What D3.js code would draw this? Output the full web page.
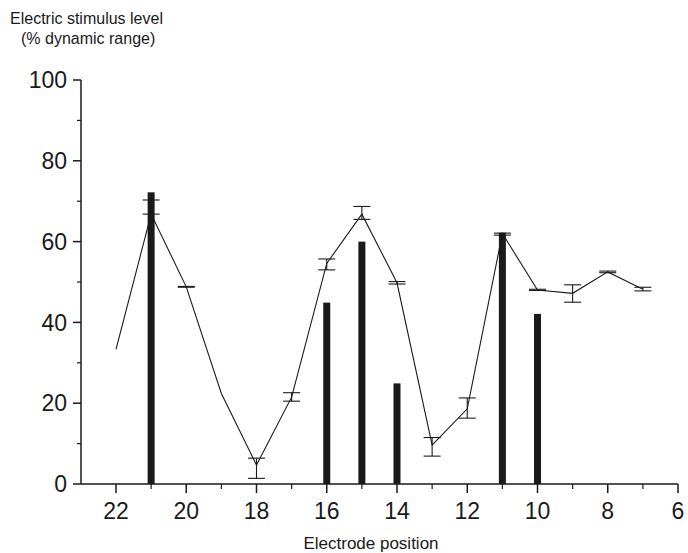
<!DOCTYPE html>
<html>
<head>
<meta charset="utf-8">
<script src="https://cdn.jsdelivr.net/npm/d3@7"></script>
<style>
  body { margin: 0; background: #fff; }
  text { font-family: "Liberation Sans", Arial, sans-serif; fill: #1a1a1a; }
</style>
</head>
<body>
<div id="chart"></div>
<script>
// electrode positions, from left to right
const electrodes = [22, 21, 20, 19, 18, 17, 16, 15, 14, 13, 12, 11, 10, 9, 8, 7];
// line (mean level) at each electrode
const levels = [33.3, 66.8, 48.8, 22.4, 4.7, 21.5, 54.6, 66.8, 49.8, 9.6, 18.6, 62.0, 48.0, 47.2, 52.5, 48.2];
// error bar low / high (null = none)
const errLow  = [null, 66.8, 48.7, null, 1.4, 20.5, 53.0, 65.5, 49.5, 6.9, 16.3, 61.6, 47.9, 45.0, 52.3, 47.8];
const errHigh = [null, 70.3, 48.9, null, 6.4, 22.6, 55.7, 68.7, 50.1, 11.5, 21.3, 62.1, 48.2, 49.3, 52.7, 48.7];
// stimulated electrodes (bars)
const barElectrodes = [21, 16, 15, 14, 11, 10];
const barValues = [72.2, 44.9, 60.0, 24.9, 62.2, 42.1];

const xTicks = [22, 20, 18, 16, 14, 12, 10, 8, 6];
const yTicks = [0, 20, 40, 60, 80, 100];

const width = 688, height = 553;
const margin = {top: 80, right: 10, bottom: 69, left: 81};

const svg = d3.select("#chart").append("svg")
  .attr("width", width)
  .attr("height", height);

const x = d3.scaleLinear().domain([22, 6]).range([116, 678]);
const y = d3.scaleLinear().domain([0, 100]).range([484, 80]);

const ink = "#1a1a1a";

// y axis
const yAxis = svg.append("g").attr("transform", `translate(${margin.left},0)`);
yAxis.append("line")
  .attr("y1", y(100)).attr("y2", y(0))
  .attr("stroke", ink).attr("stroke-width", 1.5);
yAxis.selectAll(".minor")
  .data(d3.range(10, 100, 20))
  .enter().append("line")
  .attr("x1", -4).attr("x2", 0)
  .attr("y1", d => y(d)).attr("y2", d => y(d))
  .attr("stroke", ink).attr("stroke-width", 1.2);
yAxis.selectAll(".major")
  .data(yTicks)
  .enter().append("line")
  .attr("x1", -8).attr("x2", 0)
  .attr("y1", d => y(d)).attr("y2", d => y(d))
  .attr("stroke", ink).attr("stroke-width", 1.5);
yAxis.selectAll(".lab")
  .data(yTicks)
  .enter().append("text")
  .attr("x", -14)
  .attr("y", d => y(d))
  .attr("dy", "0.36em")
  .attr("text-anchor", "end")
  .attr("font-size", 23)
  .text(d => d);

// x axis
const xAxis = svg.append("g").attr("transform", `translate(0,${y(0)})`);
xAxis.append("line")
  .attr("x1", margin.left).attr("x2", x(6))
  .attr("stroke", ink).attr("stroke-width", 1.5);
xAxis.selectAll(".minor")
  .data(d3.range(21, 6, -2))
  .enter().append("line")
  .attr("x1", d => x(d)).attr("x2", d => x(d))
  .attr("y1", 0).attr("y2", 5)
  .attr("stroke", ink).attr("stroke-width", 1.2);
xAxis.selectAll(".major")
  .data(xTicks)
  .enter().append("line")
  .attr("x1", d => x(d)).attr("x2", d => x(d))
  .attr("y1", 0).attr("y2", 9)
  .attr("stroke", ink).attr("stroke-width", 1.5);
xAxis.selectAll(".lab")
  .data(xTicks)
  .enter().append("text")
  .attr("x", d => x(d))
  .attr("y", 35)
  .attr("text-anchor", "middle")
  .attr("font-size", 23)
  .text(d => d);

// bars
const barW = 7;
svg.selectAll(".bar")
  .data(barElectrodes)
  .enter().append("rect")
  .attr("x", d => x(d) - barW / 2)
  .attr("width", barW)
  .attr("y", (d, i) => y(barValues[i]))
  .attr("height", (d, i) => y(0) - y(barValues[i]))
  .attr("fill", ink);

// line
const line = d3.line()
  .x((d, i) => x(electrodes[i]))
  .y(d => y(d));
svg.append("path")
  .datum(levels)
  .attr("d", line)
  .attr("fill", "none")
  .attr("stroke", ink)
  .attr("stroke-width", 1.1);

// error bars
const capW = 17;
const errs = electrodes.map((e, i) => ({e: e, lo: errLow[i], hi: errHigh[i]}))
  .filter(d => d.lo !== null);
const eg = svg.selectAll(".err").data(errs).enter().append("g");
eg.append("line")
  .attr("x1", d => x(d.e)).attr("x2", d => x(d.e))
  .attr("y1", d => y(d.lo)).attr("y2", d => y(d.hi))
  .attr("stroke", ink).attr("stroke-width", 1.1);
eg.append("line")
  .attr("x1", d => x(d.e) - capW / 2).attr("x2", d => x(d.e) + capW / 2)
  .attr("y1", d => y(d.lo)).attr("y2", d => y(d.lo))
  .attr("stroke", ink).attr("stroke-width", 1.1);
eg.append("line")
  .attr("x1", d => x(d.e) - capW / 2).attr("x2", d => x(d.e) + capW / 2)
  .attr("y1", d => y(d.hi)).attr("y2", d => y(d.hi))
  .attr("stroke", ink).attr("stroke-width", 1.1);

// titles
svg.append("text")
  .attr("x", 10).attr("y", 24)
  .attr("font-size", 16)
  .text("Electric stimulus level");
svg.append("text")
  .attr("x", 21).attr("y", 44)
  .attr("font-size", 16)
  .text("(% dynamic range)");
svg.append("text")
  .attr("x", 371).attr("y", 549)
  .attr("text-anchor", "middle")
  .attr("font-size", 17)
  .text("Electrode position");
</script>
</body>
</html>
